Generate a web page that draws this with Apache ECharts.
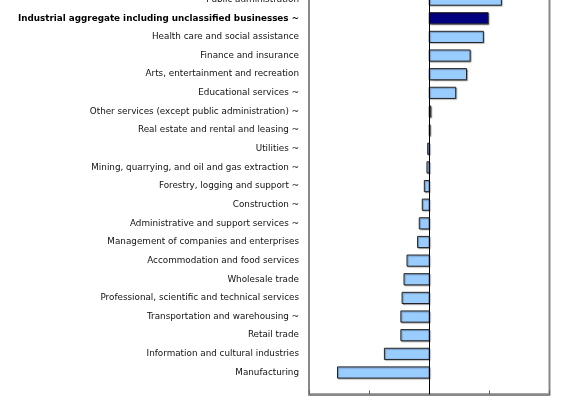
<!DOCTYPE html>
<html>
<head>
<meta charset="utf-8">
<script src="https://cdn.jsdelivr.net/npm/echarts@6/dist/echarts.min.js"></script>
<style>html,body{margin:0;padding:0;background:#fff}#c{width:580px;height:400px}</style>
</head>
<body>
<div id="c"></div>
<script>
var categories = [
  "Public administration",
  "Industrial aggregate including unclassified businesses ~",
  "Health care and social assistance",
  "Finance and insurance",
  "Arts, entertainment and recreation",
  "Educational services ~",
  "Other services (except public administration) ~",
  "Real estate and rental and leasing ~",
  "Utilities ~",
  "Mining, quarrying, and oil and gas extraction ~",
  "Forestry, logging and support ~",
  "Construction ~",
  "Administrative and support services ~",
  "Management of companies and enterprises",
  "Accommodation and food services",
  "Wholesale trade",
  "Professional, scientific and technical services",
  "Transportation and warehousing ~",
  "Retail trade",
  "Information and cultural industries",
  "Manufacturing"
];
var values = [0.60, 0.49, 0.45, 0.34, 0.31, 0.22, 0.012, 0.006, -0.013, -0.019, -0.041, -0.058, -0.083, -0.097, -0.185, -0.21, -0.226, -0.236, -0.236, -0.373, -0.763];
var highlighted = [1];
var xTicks = [-1, -0.5, 0, 0.5, 1];

var chart = echarts.init(document.getElementById('c'), null, {renderer: 'canvas'});
var data = values.map(function (v, i) { return [v, i, highlighted.indexOf(i) >= 0 ? 1 : 0]; });

chart.setOption({
  animation: false,
  grid: {left: 309, right: 30.5, top: -22.2, bottom: 5.7, show: true, borderColor: '#888', borderWidth: 2,
         backgroundColor: 'transparent', containLabel: false, outerBoundsMode: 'none'},
  xAxis: {
    type: 'value', min: xTicks[0], max: xTicks[xTicks.length - 1], interval: 0.5,
    axisLine: {show: true, onZero: false, lineStyle: {color: '#888', width: 2}},
    axisTick: {show: true, inside: true, length: 4, lineStyle: {color: '#666', width: 1}},
    axisLabel: {show: true, color: '#000', fontFamily: 'DejaVu Sans', fontSize: 9},
    splitLine: {show: false}
  },
  yAxis: {
    type: 'value', inverse: true, min: -1.17, max: categories.length - 1 + 1.17,
    axisLine: {show: false, onZero: false}, axisTick: {show: false}, splitLine: {show: false},
    axisLabel: {
      show: true, margin: 10, color: '#111', fontFamily: 'DejaVu Sans', fontSize: 8.8,
      customValues: categories.map(function (_, i) { return i; }),
      formatter: function (v) {
        var i = Math.round(v);
        var name = categories[i] || '';
        return highlighted.indexOf(i) >= 0 ? '{b|' + name + '}' : name;
      },
      rich: {b: {fontWeight: 'bold', fontFamily: 'DejaVu Sans', fontSize: 8.8, color: '#000'}}
    }
  },
  series: [{
    type: 'custom',
    data: data,
    encode: {x: 0, y: 1},
    clip: false,
    renderItem: function (params, api) {
      var v = api.value(0), idx = api.value(1), hl = api.value(2);
      var p0 = api.coord([0, idx]);
      var p1 = api.coord([v, idx]);
      var h = api.size([0, 1])[1] * 0.6;
      return {
        type: 'rect',
        shape: {x: Math.min(p0[0], p1[0]), y: p0[1] - h / 2, width: Math.abs(p1[0] - p0[0]), height: h},
        style: {
          fill: hl ? '#000080' : '#99ccff', stroke: '#222', lineWidth: 1,
          shadowColor: 'rgba(0,0,0,0.3)', shadowOffsetX: 1, shadowOffsetY: 1, shadowBlur: 1
        }
      };
    },
    markLine: {
      silent: true, symbol: 'none', label: {show: false},
      lineStyle: {color: '#000', type: 'solid', width: 1},
      data: [{xAxis: 0}]
    }
  }]
});
</script>
</body>
</html>
